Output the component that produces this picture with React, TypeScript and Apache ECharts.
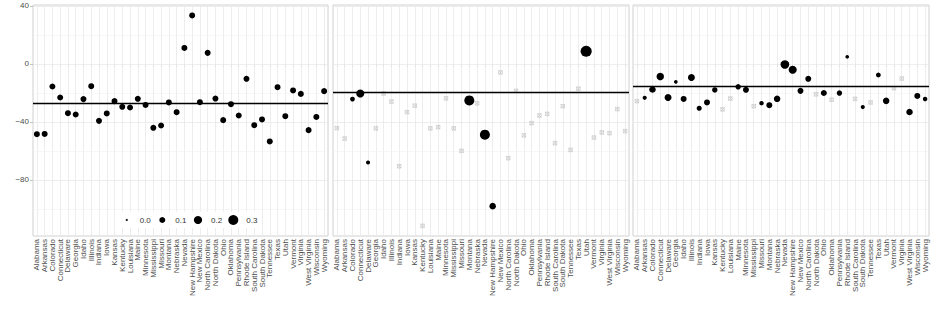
import React, { useEffect, useRef } from "react";
import * as echarts from "echarts";

const states = [
  "Alabama", "Arkansas", "Colorado", "Connecticut", "Delaware", "Georgia", "Idaho", "Illinois",
  "Indiana", "Iowa", "Kansas", "Kentucky", "Louisiana", "Maine", "Minnesota", "Mississippi",
  "Missouri", "Montana", "Nebraska", "Nevada", "New Hampshire", "New Mexico", "North Carolina",
  "North Dakota", "Ohio", "Oklahoma", "Pennsylvania", "Rhode Island", "South Carolina",
  "South Dakota", "Tennessee", "Texas", "Utah", "Vermont", "Virginia", "West Virginia",
  "Wisconsin", "Wyoming",
];

const p1Values = [-48.5, -48.3, -15.6, -23.2, -34.0, -34.9, -24.3, -15.4, -39.3, -34.2, -25.7, -29.6, -30.1, -24.1, -28.3, -44.1, -42.5, -26.6, -33.3, 11.0, 33.4, -26.4, 7.6, -23.9, -38.8, -27.8, -35.6, -10.3, -42.3, -38.3, -53.5, -16.1, -36.1, -18.3, -20.7, -45.7, -36.6, -18.8];
const p1Weights = [0.1, 0.1, 0.1, 0.1, 0.1, 0.1, 0.1, 0.1, 0.1, 0.1, 0.1, 0.1, 0.1, 0.1, 0.1, 0.1, 0.1, 0.1, 0.1, 0.1, 0.1, 0.1, 0.1, 0.1, 0.1, 0.1, 0.1, 0.1, 0.1, 0.1, 0.1, 0.1, 0.1, 0.1, 0.1, 0.1, 0.1, 0.1];
const p1Mean = -27.3;

const p2Values = [-44.3, -51.5, -24.3, -20.4, -68.0, -44.5, -20.4, -26.0, -70.6, -33.3, -28.8, -111.7, -44.5, -43.6, -23.8, -44.5, -60.0, -25.2, -27.2, -48.8, -98.1, -5.9, -65.0, -18.6, -49.3, -40.9, -35.6, -34.5, -54.7, -29.2, -59.3, -17.1, 8.7, -50.8, -47.3, -47.8, -31.2, -46.4];
const p2Weights = [null, null, 0.06, 0.19, 0.04, null, null, null, null, null, null, null, null, null, null, null, null, 0.3, null, 0.3, 0.12, null, null, null, null, null, null, null, null, null, null, null, 0.37, null, null, null, null, null];
const p2Mean = -19.5;

const p3Values = [-25.7, -23.4, -17.7, -8.7, -23.2, -12.4, -24.2, -9.4, -30.6, -26.6, -18.0, -31.4, -23.9, -15.8, -17.9, -29.2, -27.1, -28.5, -24.1, -0.4, -4.0, -18.6, -10.3, -21.0, -20.1, -24.7, -20.1, 4.9, -24.1, -29.8, -26.6, -7.7, -25.5, -16.8, -10.1, -33.2, -22.1, -24.2];
const p3Weights = [null, 0.04, 0.12, 0.16, 0.14, 0.03, 0.1, 0.14, 0.07, 0.1, 0.08, null, null, 0.08, 0.1, null, 0.05, 0.1, 0.12, 0.22, 0.19, 0.1, 0.1, null, 0.1, null, 0.08, 0.03, null, 0.04, null, 0.06, 0.12, null, null, 0.12, 0.1, 0.05];
const p3Mean = -15.6;

const yTicks = [-80, -40, 0, 40];
const yMinorGrid = [-100, -60, -20, 20];
const legendWeights = [0.0, 0.1, 0.2, 0.3];
const legendLabels = ["0.0", "0.1", "0.2", "0.3"];

const FONT = "Liberation Sans, Arial, sans-serif";
const sizeOf = (w: number) => Math.sqrt(4 + 320 * w);
const crossPath = "path://M0,0H10V10H0Z M0,0L10,10 M10,0L0,10";

const panels = [
  { values: p1Values, weights: p1Weights, mean: p1Mean, left: 33, width: 295 },
  { values: p2Values, weights: p2Weights, mean: p2Mean, left: 333, width: 296 },
  { values: p3Values, weights: p3Weights, mean: p3Mean, left: 633, width: 296 },
];

function fmtMinus(v: number) {
  return v < 0 ? "\u2212" + Math.abs(v) : String(v);
}

export default function App() {
  const ref = useRef<HTMLDivElement>(null);
  useEffect(() => {
    if (!ref.current) return;
    const chart = echarts.init(ref.current, null, { renderer: "svg" });
    const grid: any[] = [];
    const xAxis: any[] = [];
    const yAxis: any[] = [];
    const series: any[] = [];
    panels.forEach((p, k) => {
      grid.push({
        left: p.left, top: 5, width: p.width, height: 231,
        show: true, borderColor: "#d0d0d0", borderWidth: 1, backgroundColor: "#ffffff",
      });
      xAxis.push({
        type: "category", gridIndex: k, data: states, boundaryGap: true,
        axisLine: { show: false },
        axisTick: { show: true, alignWithLabel: true, length: 3, lineStyle: { color: "#b3b3b3", width: 0.8 } },
        axisLabel: { rotate: 90, interval: 0, fontSize: 8, color: "#4d4d4d", margin: 3, fontFamily: FONT },
        splitLine: { show: false },
      });
      yAxis.push({
        type: "value", gridIndex: k, min: -118.7, max: 40.6,
        axisLine: { show: false },
        axisTick: { show: k === 0, customValues: yTicks, length: 3, lineStyle: { color: "#b3b3b3", width: 0.8 } },
        axisLabel: { show: k === 0, customValues: yTicks, fontSize: 8, color: "#4d4d4d", margin: 4, fontFamily: FONT, formatter: (v: number) => fmtMinus(v) },
        splitLine: { show: false },
      });
      const gridLines: any[] = [];
      states.forEach((s) => gridLines.push({ xAxis: s, lineStyle: { color: "#e8e8e8", width: 0.8, type: "solid" } }));
      yMinorGrid.forEach((v) => gridLines.push({ yAxis: v, lineStyle: { color: "#f2f2f2", width: 0.6, type: "solid" } }));
      yTicks.forEach((v) => gridLines.push({ yAxis: v, lineStyle: { color: "#e8e8e8", width: 0.8, type: "solid" } }));
      series.push({
        type: "line", xAxisIndex: k, yAxisIndex: k, data: [], z: 1, silent: true,
        markLine: { z: 1, silent: true, symbol: ["none", "none"], label: { show: false }, animation: false, data: gridLines },
      });
      const grayData: any[] = [];
      const blackData: any[] = [];
      p.values.forEach((v, i) => {
        const w = p.weights[i];
        if (w === null || w === undefined) grayData.push([i, v]);
        else blackData.push([i, v, w]);
      });
      series.push({
        type: "scatter", xAxisIndex: k, yAxisIndex: k, z: 3, data: grayData,
        symbol: crossPath, symbolSize: 3.6,
        itemStyle: { color: "rgba(0,0,0,0)", borderColor: "#a6a6a6", borderWidth: 0.5 },
      });
      series.push({
        type: "scatter", xAxisIndex: k, yAxisIndex: k, z: 5, data: blackData,
        symbol: "circle", symbolSize: (d: any) => sizeOf(d[2]),
        itemStyle: { color: "#000000", opacity: 1 },
        markLine: {
          z: 4, silent: true, symbol: ["none", "none"], label: { show: false }, animation: false,
          data: [{ yAxis: p.mean, lineStyle: { color: "#000000", width: 1.3, type: "solid" } }],
        },
      });
    });

    const legendX = [126.7, 162.3, 198, 233.3];
    const graphic: any[] = [
      { type: "rect", shape: { x: 119, y: 212, width: 139, height: 16 }, style: { fill: "#ffffff" }, z: 10 },
    ];
    legendWeights.forEach((w, i) => {
      graphic.push({ type: "circle", shape: { cx: legendX[i], cy: 220, r: sizeOf(w) / 2 }, style: { fill: "#000000" }, z: 11 });
      graphic.push({
        type: "text", x: legendX[i] + 13, y: 220, z: 11,
        style: { text: legendLabels[i], fontSize: 8, fill: "#333333", fontFamily: FONT, textVerticalAlign: "middle", textAlign: "left" },
      });
    });

    chart.setOption({ animation: false, backgroundColor: "#ffffff", grid, xAxis, yAxis, series, graphic });
    return () => chart.dispose();
  }, []);
  return <div ref={ref} style={{ position: "absolute", left: 0, top: 0, width: 934, height: 312 }} />;
}
